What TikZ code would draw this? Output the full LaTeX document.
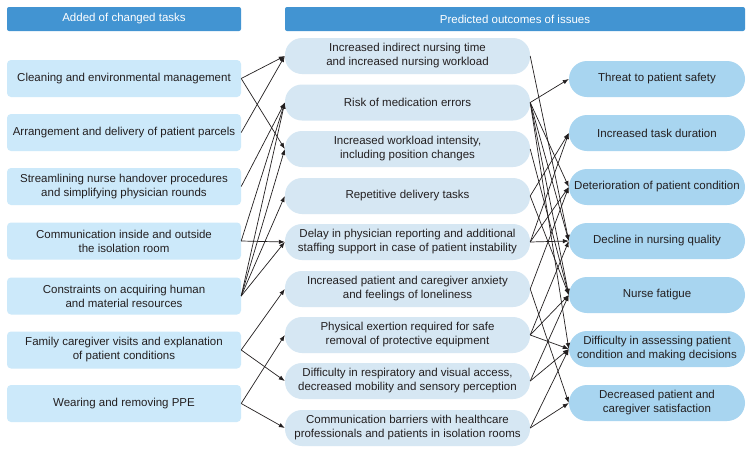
\documentclass[tikz,border=0pt]{standalone}
\usepackage{fontspec}
\setmainfont{Liberation Sans}
\usetikzlibrary{arrows.meta}
\definecolor{hdr}{RGB}{66,148,210}
\definecolor{lbox}{RGB}{204,233,250}
\definecolor{mbox}{RGB}{214,231,243}
\definecolor{rbox}{RGB}{168,213,240}
\definecolor{txt}{RGB}{35,31,32}
\begin{document}
\begin{tikzpicture}[x=1pt,y=-1pt,
  basefont/.style={font=\fontsize{11.5}{14}\selectfont},
  hdrbox/.style={basefont,fill=hdr,rounded corners=2pt,text=white,minimum height=24pt,inner sep=0pt},
  taskbox/.style={basefont,fill=lbox,rounded corners=4pt,minimum width=234pt,minimum height=37pt,inner sep=0pt,align=center,text=txt},
  midbox/.style={basefont,fill=mbox,rounded corners=17pt,minimum width=245pt,minimum height=36pt,inner sep=0pt,align=center,text=txt},
  outbox/.style={basefont,fill=rbox,rounded corners=18pt,minimum width=176pt,minimum height=36pt,inner sep=0pt,align=center,text=txt},
  arr/.style={-{Latex[length=6pt,width=4.5pt]},line width=0.7pt,draw=txt}]
\useasboundingbox (0,0) rectangle (752,453);
\fill[white] (0,0) rectangle (752,453);
% headers
\node[hdrbox,minimum width=234pt] (h1) at (124,19) {Added of changed tasks};
\node[hdrbox,minimum width=460pt] (h2) at (515,19) {Predicted outcomes of issues};
% left tasks
\node[taskbox] (L1) at (124,78.5) {Cleaning and environmental management};
\node[taskbox] (L2) at (124,132.5) {Arrangement and delivery of patient parcels};
\node[taskbox] (L3) at (124,186.5) {Streamlining nurse handover procedures\\and simplifying physician rounds};
\node[taskbox] (L4) at (124,241) {Communication inside and outside\\the isolation room};
\node[taskbox] (L5) at (124,296) {Constraints on acquiring human\\and material resources};
\node[taskbox] (L6) at (124,350) {Family caregiver visits and explanation\\of patient conditions};
\node[taskbox] (L7) at (124,403.5) {Wearing and removing PPE};
% middle issues
\node[midbox] (M1) at (407.5,56) {Increased indirect nursing time\\and increased nursing workload};
\node[midbox] (M2) at (407.5,102.5) {Risk of medication errors};
\node[midbox] (M3) at (407.5,149) {Increased workload intensity,\\including position changes};
\node[midbox] (M4) at (407.5,196) {Repetitive delivery tasks};
\node[midbox] (M5) at (407.5,242) {Delay in physician reporting and additional\\staffing support in case of patient instability};
\node[midbox] (M6) at (407.5,289) {Increased patient and caregiver anxiety\\and feelings of loneliness};
\node[midbox] (M7) at (407.5,335) {Physical exertion required for safe\\removal of protective equipment};
\node[midbox] (M8) at (407.5,381) {Difficulty in respiratory and visual access,\\decreased mobility and sensory perception};
\node[midbox] (M9) at (407.5,428) {Communication barriers with healthcare\\professionals and patients in isolation rooms};
% right outcomes
\node[outbox] (R1) at (657,79) {Threat to patient safety};
\node[outbox] (R2) at (657,133) {Increased task duration};
\node[outbox] (R3) at (657,187) {Deterioration of patient condition};
\node[outbox] (R4) at (657,241) {Decline in nursing quality};
\node[outbox] (R5) at (657,295) {Nurse fatigue};
\node[outbox] (R6) at (657,349) {Difficulty in assessing patient\\condition and making decisions};
\node[outbox] (R7) at (657,403) {Decreased patient and\\caregiver satisfaction};
% left to middle
\foreach \a/\b in {L1/M1,L1/M3,L2/M1,L3/M2,L4/M2,L4/M5,L5/M2,L5/M3,L5/M4,L5/M5,L6/M6,L6/M8,L7/M7,L7/M9}
  \draw[arr] (\a.east) -- (\b.west);
% middle to right
\foreach \a/\b in {M1/R4,M2/R1,M2/R3,M2/R4,M2/R5,M2/R6,M3/R5,M4/R2,M4/R5,M5/R2,M5/R3,M5/R4,M6/R3,M6/R7,M7/R4,M7/R5,M7/R6,M8/R5,M8/R6,M9/R6,M9/R7}
  \draw[arr] (\a.east) -- (\b.west);
\end{tikzpicture}
\end{document}
